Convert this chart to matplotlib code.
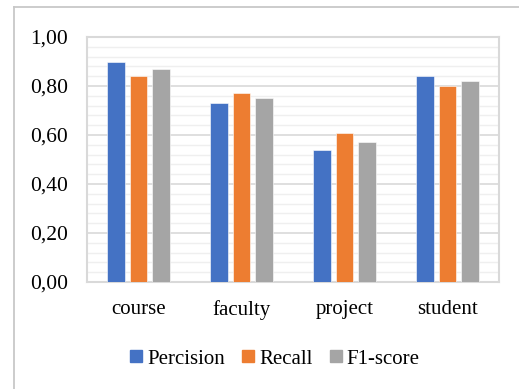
import matplotlib
matplotlib.use("Agg")
import matplotlib.pyplot as plt
import numpy as np
from matplotlib.patches import Rectangle
from matplotlib.lines import Line2D
from matplotlib.ticker import MultipleLocator, FuncFormatter

categories = ["course", "faculty", "project", "student"]
series_names = ["Percision", "Recall", "F1-score"]
precision = [0.90, 0.73, 0.54, 0.84]
recall = [0.84, 0.77, 0.61, 0.80]
f1_score = [0.87, 0.75, 0.57, 0.82]
series_values = [precision, recall, f1_score]
colors = ["#4472C4", "#ED7D31", "#A5A5A5"]

plt.rcParams["font.family"] = ["Liberation Serif", "DejaVu Serif"]

W, H = 519, 389
fig = plt.figure(figsize=(W / 100, H / 100), dpi=100)
fig.patch.set_facecolor("white")

# outer chart frame
fig.add_artist(Line2D([14 / W, 14 / W], [0, 1 - 7 / H], transform=fig.transFigure,
                      color="#c8c8c8", lw=1.3))
fig.add_artist(Line2D([14 / W, 1.0], [1 - 7 / H, 1 - 7 / H], transform=fig.transFigure,
                      color="#c8c8c8", lw=1.3))

left, right, top, bottom = 87, 499, 37, 282
ax = fig.add_axes([left / W, 1 - bottom / H, (right - left) / W, (bottom - top) / H])

x = np.arange(len(categories))
width = 0.17
offset = 0.218
for i, (vals, col, name) in enumerate(zip(series_values, colors, series_names)):
    ax.bar(x + (i - 1) * offset, vals, width, color=col, label=name, zorder=3,
           edgecolor="white", linewidth=0.4)

ax.set_xlim(-0.5, len(categories) - 0.5)
ax.set_ylim(0, 1.0)
ax.yaxis.set_major_locator(MultipleLocator(0.2))
ax.yaxis.set_minor_locator(MultipleLocator(0.04))
ax.yaxis.set_major_formatter(FuncFormatter(lambda v, p: f"{v:.2f}".replace(".", ",")))
ax.grid(axis="y", which="major", color="#d9d9d9", lw=1.2, zorder=1)
ax.grid(axis="y", which="minor", color="#efefef", lw=1.0, zorder=0)
ax.set_xticks(x)
ax.set_xticklabels(categories)
ax.tick_params(axis="both", which="both", length=0, colors="black")
ax.tick_params(axis="y", pad=13.5, labelsize=15.5)
ax.tick_params(axis="x", pad=13, labelsize=15)
for s in ax.spines.values():
    s.set_color("#d9d9d9")
    s.set_linewidth(1.5)

handles = [Rectangle((0, 0), 1, 1, color=c) for c in colors]
fig.legend(handles, series_names, loc="center", bbox_to_anchor=(275 / W, 1 - 359 / H),
           ncol=3, frameon=False, fontsize=15, handlelength=0.55, handleheight=0.55,
           handletextpad=0.25, columnspacing=0.85, borderpad=0)

fig.savefig("out.png", dpi=100, facecolor="white")
